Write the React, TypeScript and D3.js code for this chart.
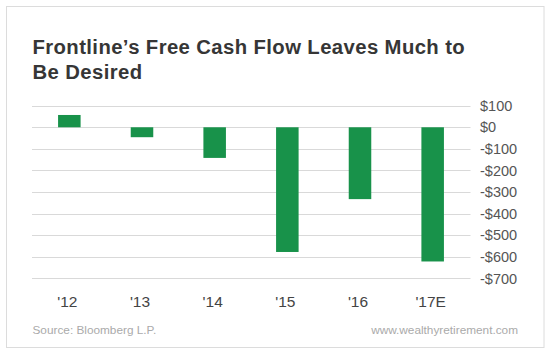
import React, { useRef, useEffect } from "react";
import * as d3 from "d3";

const years = ["'12", "'13", "'14", "'15", "'16", "'17E"];
const freeCashFlow = [57, -46, -142, -578, -333, -622];
const yTicks = [100, 0, -100, -200, -300, -400, -500, -600, -700];
const titleLines = ["Frontline\u2019s Free Cash Flow Leaves Much to", "Be Desired"];

const width = 550;
const height = 353;
const margin = { top: 105.7, right: 80, bottom: 74.7, left: 32 };

const fmt = (v: number) => (v < 0 ? `-$${Math.abs(v)}` : `$${v}`);

const App: React.FC = () => {
  const svgRef = useRef<SVGSVGElement>(null);

  useEffect(() => {
    if (!svgRef.current) return;
    const svg = d3.select(svgRef.current);
    svg.selectAll("*").remove();

    // card background + border
    svg
      .append("rect")
      .attr("x", 6.5)
      .attr("y", 6.5)
      .attr("width", 537.5)
      .attr("height", 341)
      .attr("fill", "#fff")
      .attr("stroke", "#dcdcdc")
      .attr("stroke-width", 1);

    // title
    svg
      .append("g")
      .selectAll("text")
      .data(titleLines)
      .join("text")
      .attr("x", 32.5)
      .attr("y", (d, i) => 54 + i * 25)
      .attr("font-family", "'Liberation Sans', Arial, sans-serif")
      .attr("font-size", 20.3)
      .attr("font-weight", "bold")
      .attr("letter-spacing", 0.4)
      .attr("fill", "#363636")
      .text((d) => d);

    const x = d3
      .scaleBand()
      .domain(years)
      .range([33, 469])
      .paddingInner(0.69)
      .paddingOuter(0.345);

    const y = d3
      .scaleLinear()
      .domain([-700, 100])
      .range([height - margin.bottom, margin.top]);

    // gridlines
    svg
      .append("g")
      .selectAll("line")
      .data(yTicks)
      .join("line")
      .attr("x1", margin.left)
      .attr("x2", 470.5)
      .attr("y1", (d) => Math.round(y(d)) + 0.5)
      .attr("y2", (d) => Math.round(y(d)) + 0.5)
      .attr("stroke", "#d9d9d9")
      .attr("stroke-width", 1);

    // y labels
    svg
      .append("g")
      .selectAll("text")
      .data(yTicks)
      .join("text")
      .attr("x", 480)
      .attr("y", (d) => y(d))
      .attr("dy", "0.36em")
      .attr("font-family", "'Liberation Sans', Arial, sans-serif")
      .attr("font-size", 14.5)
      .attr("fill", "#555")
      .text((d) => fmt(d));

    // bars
    svg
      .append("g")
      .selectAll("rect")
      .data(freeCashFlow)
      .join("rect")
      .attr("x", (d, i) => x(years[i])!)
      .attr("width", x.bandwidth())
      .attr("y", (d) => y(Math.max(0, d)))
      .attr("height", (d) => Math.abs(y(d) - y(0)))
      .attr("fill", "#18924a");

    // x labels
    svg
      .append("g")
      .selectAll("text")
      .data(years)
      .join("text")
      .attr("x", (d) => x(d)! + x.bandwidth() / 2 - 2)
      .attr("y", 306.5)
      .attr("text-anchor", "middle")
      .attr("font-family", "'Liberation Sans', Arial, sans-serif")
      .attr("font-size", 15.5)
      .attr("fill", "#444")
      .text((d) => d);

    // footer
    svg
      .append("text")
      .attr("x", 32.5)
      .attr("y", 333.5)
      .attr("font-family", "'Liberation Sans', Arial, sans-serif")
      .attr("font-size", 11.8)
      .attr("fill", "#aaa")
      .text("Source: Bloomberg L.P.");

    svg
      .append("text")
      .attr("x", 518)
      .attr("y", 333.5)
      .attr("text-anchor", "end")
      .attr("font-family", "'Liberation Sans', Arial, sans-serif")
      .attr("font-size", 11.8)
      .attr("fill", "#aaa")
      .text("www.wealthyretirement.com");
  }, []);

  return (
    <svg
      ref={svgRef}
      width={width}
      height={height}
      style={{ position: "absolute", left: 0, top: 0, background: "#fff" }}
    ></svg>
  );
};

export default App;
